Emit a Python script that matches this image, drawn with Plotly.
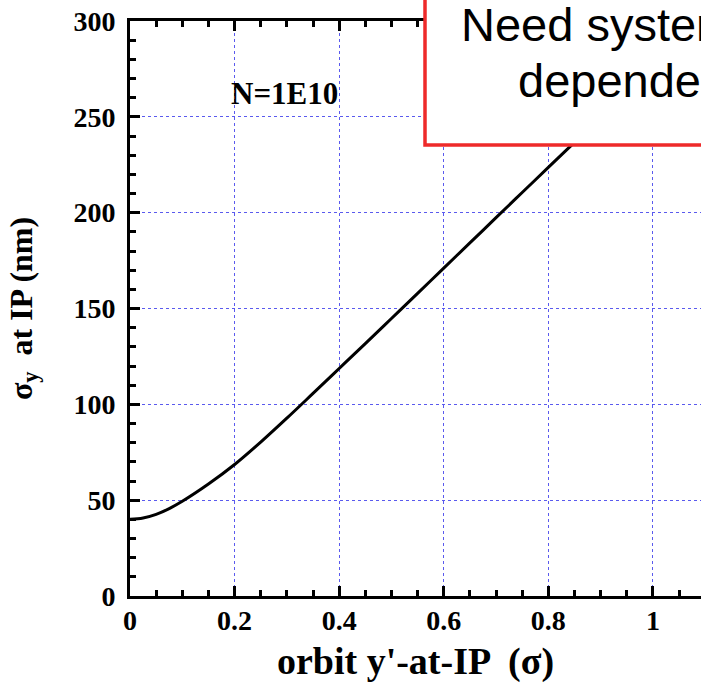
import plotly.graph_objects as go

# data
orbit_x = [0, 0.025, 0.05, 0.075, 0.1, 0.15, 0.2, 0.25, 0.3, 0.35, 0.4, 0.45, 0.5,
           0.55, 0.6, 0.65, 0.7, 0.75, 0.8, 0.85, 0.9]
sigma_y = [40, 40.7, 42.6, 45.6, 49.4, 58.4, 68.6, 80.3, 92.8, 105.7, 118.7, 131.7, 144.8,
           157.9, 171.1, 184.2, 197.4, 210.5, 223.6, 236.7, 249.8]

x_ticks = [0, 0.2, 0.4, 0.6, 0.8, 1]
x_tick_labels = ["0", "0.2", "0.4", "0.6", "0.8", "1"]
y_ticks = [0, 50, 100, 150, 200, 250, 300]
y_tick_labels = ["0", "50", "100", "150", "200", "250", "300"]

serif = "Liberation Serif, Times New Roman, serif"
sans = "Liberation Sans, Arial, sans-serif"
grid_col = "#5a5aee"

fig = go.Figure()
fig.add_trace(go.Scatter(x=orbit_x, y=sigma_y, mode="lines",
                         line=dict(color="black", width=3, shape="spline", smoothing=1.0),
                         showlegend=False, hoverinfo="skip"))

axis_common = dict(
    showline=True, linecolor="black", linewidth=3,
    ticks="inside", ticklen=10, tickwidth=2.5, tickcolor="black",
    showgrid=True, gridcolor=grid_col, gridwidth=1, griddash="dot",
    zeroline=False,
    tickfont=dict(family=serif, size=28, color="black", weight="bold"),
)

fig.update_xaxes(
    range=[0, 1.092], tickvals=x_ticks, ticktext=x_tick_labels,
    mirror="ticks",
    minor=dict(dtick=0.05, ticks="inside", ticklen=6, tickwidth=2.5, tickcolor="black", showgrid=False),
    title=dict(text="orbit y'-at-IP  (σ)", font=dict(family=serif, size=38, color="black", weight="bold"),
               standoff=16),
    ticklabelstandoff=-3,
    **axis_common,
)
fig.update_yaxes(
    range=[0, 300], tickvals=y_ticks, ticktext=y_tick_labels,
    minor=dict(dtick=10, ticks="inside", ticklen=6, tickwidth=2.5, tickcolor="black", showgrid=False),
    title=dict(text="σ<sub>y</sub>  at IP (nm)", font=dict(family=serif, size=32, color="black", weight="bold"),
               standoff=32),
    ticklabelstandoff=6,
    **axis_common,
)

fig.add_annotation(x=0.296, y=262, xref="x", yref="y", text="N=1E10", showarrow=False,
                   font=dict(family=serif, size=31, color="black", weight="bold"))

# red callout box (cut at right edge)
fig.add_shape(type="rect", xref="paper", yref="paper",
              x0=(425 - 130) / 571, x1=1.2, y0=(596 - 145) / 575, y1=1.2,
              line=dict(color="#ee2a2a", width=3.5), fillcolor="white", layer="above")
fig.add_annotation(x=(459 - 130) / 571, y=(596 - 24) / 575, xref="paper", yref="paper",
                   xanchor="left", yanchor="middle", text="Need systematic study", showarrow=False,
                   font=dict(family=sans, size=47, color="black"))
fig.add_annotation(x=(516 - 130) / 571, y=(596 - 80) / 575, xref="paper", yref="paper",
                   xanchor="left", yanchor="middle", text="dependence on", showarrow=False,
                   font=dict(family=sans, size=47, color="black"))

fig.update_layout(
    width=701, height=683,
    margin=dict(l=130, r=0, t=21, b=87),
    plot_bgcolor="white", paper_bgcolor="white",
)

fig.write_html("out.html")
